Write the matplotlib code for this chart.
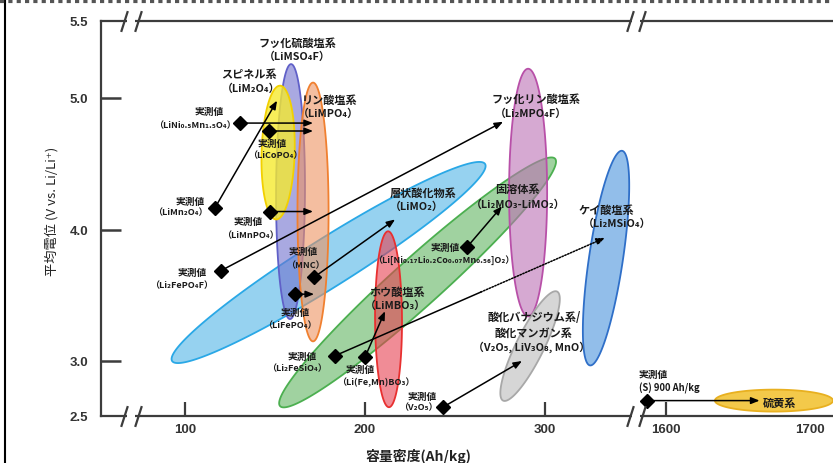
import numpy as np
import matplotlib.pyplot as plt
import matplotlib.lines as mlines
from matplotlib.patches import Polygon
from matplotlib.colors import to_rgba

plt.rcParams['font.family'] = ['Noto Sans CJK JP', 'DejaVu Sans']
plt.rcParams['font.weight'] = 'bold'

# regions of each material class: end points of the long axis (Ah/kg, V)
region_names = ['層状酸化物系', '固溶体系', 'フッ化硫酸塩系', 'スピネル系', 'リン酸塩系',
                'ホウ酸塩系', 'フッ化リン酸塩系', '酸化バナジウム系', 'ケイ酸塩系', '硫黄系']
region_x1 = [92.8, 152.8, 158.3, 150.6, 171.1, 213.3, 290.6, 276.7, 325.0, 1634]
region_v1 = [3.00, 2.59, 3.32, 4.08, 3.15, 2.58, 3.34, 2.64, 2.96, 2.64]
region_x2 = [266.7, 305.6, 158.9, 152.8, 171.1, 212.8, 290.6, 306.7, 342.8, 1716]
region_v2 = [4.50, 4.54, 5.22, 5.08, 5.10, 3.99, 5.19, 3.53, 4.60, 2.64]

# measured values and where the arrows point
meas_names = ['LiNi0.5Mn1.5O4', 'LiCoPO4', 'LiMn2O4', 'LiMnPO4', 'Li2FePO4F', 'MNC',
              'LiFePO4', 'Li2FeSiO4', 'Li(Fe,Mn)BO3', 'Li-rich', 'V2O5', 'S']
meas_x = [130.6, 146.7, 116.7, 147.2, 120.0, 171.7, 161.1, 183.3, 200.0, 256.7, 243.3, 1587]
meas_v = [4.81, 4.75, 4.17, 4.14, 3.69, 3.64, 3.51, 3.04, 3.03, 3.87, 2.58, 2.64]
target_x = [171.1, 171.1, 151.1, 171.1, 276.7, 216.7, 171.7, 333.3, 211.1, 276.1, 287.2, 1665]
target_v = [4.81, 4.75, 4.98, 4.14, 4.82, 4.08, 3.51, 3.94, 3.38, 4.18, 3.00, 2.64]
dotted = 'Li2FeSiO4'

xticks = [100, 200, 300, 1600, 1700]
yticks = [2.5, 3.0, 4.0, 5.0, 5.5]

# styles
fills = ['#50b4e6', '#61b461', '#7171cd', '#f5ea30', '#ee9361',
         '#e63f50', '#bc71b4', '#bcbcbc', '#4a94dc', '#f2c02a']
alphas = [0.6, 0.6, 0.6, 0.8, 0.6, 0.6, 0.6, 0.6, 0.6, 0.85]
edges = ['#2aa8e6', '#4caf50', '#6060c8', '#f2d000', '#f08030',
         '#e83030', '#b850a8', '#a8a8a8', '#2f6fc8', '#e8b020']
half_w = [17.3, 17.3, 10.4, 11.9, 11.2, 9.7, 13.7, 10.0, 12.2, 7.9]  # points

# broken x axis: piecewise linear
xk = np.array([0.0, 350.5, 1579.2, 2000.0])
xp = np.array([5.0, 635.9, 636.0, 1242.0])
yk = np.array([2.5, 3.0, 4.0, 5.0, 5.5])
yp = np.array([0.0, 55.0, 186.0, 318.0, 395.0])

fig = plt.figure(figsize=(8.33, 4.64), dpi=100)
ax = fig.add_axes([101 / 833, 47 / 464, 732 / 833, 395 / 464])
ax.set_xscale('function', functions=(lambda x: np.interp(x, xk, xp), lambda p: np.interp(p, xp, xk)))
ax.set_yscale('function', functions=(lambda v: np.interp(v, yk, yp), lambda p: np.interp(p, yp, yk)))
ax.set_xlim(53.3, 1716)
ax.set_ylim(2.5, 5.5)

ax.set_xticks(xticks)
ax.set_xticklabels([str(t) for t in xticks])
ax.set_yticks(yticks)
ax.set_yticklabels(['%.1f' % t for t in yticks])
ax.minorticks_off()
spc = '#3c3c3c'
ax.tick_params(axis='y', direction='in', length=14.4, width=1.8, color=spc, pad=9,
               labelsize=9.5, labelcolor='#333333')
ax.tick_params(axis='x', direction='in', length=10, width=1.6, color=spc, pad=5,
               labelsize=9.5, labelcolor='#333333')
for lbl in ax.get_xticklabels() + ax.get_yticklabels():
    lbl.set_family('Liberation Sans')
    lbl.set_fontweight('bold')
yt = ax.yaxis.get_major_ticks()
yt[0].tick1line.set_visible(False)
yt[-1].tick1line.set_visible(False)
ax.xaxis.get_major_ticks()[-1].tick1line.set_visible(False)

ax.spines['right'].set_visible(False)
for s in ['left', 'top', 'bottom']:
    ax.spines[s].set_color(spc)
    ax.spines[s].set_linewidth(1.6)

# break marks
tr = ax.get_xaxis_transform()
slash = [(-0.32, -1), (0.32, 1)]
for yy in (0, 1):
    for gap, (s1, s2) in [(69.9, (66.1, 73.6)), (350.5, (347.2, 1583.3))]:
        ax.plot([gap], [yy], transform=tr, marker='_', ms=6, mew=4, color='white',
                clip_on=False, zorder=5)
        ax.plot([s1, s2], [yy, yy], transform=tr, ls='none', marker=slash, ms=15,
                mew=1.6, mec=spc, mfc='none', clip_on=False, zorder=6)

# regions, built in display space from the long-axis end points
t = np.linspace(0, 2 * np.pi, 240)
inv = ax.transData.inverted()
for i in range(len(region_names)):
    p1 = ax.transData.transform((region_x1[i], region_v1[i]))
    p2 = ax.transData.transform((region_x2[i], region_v2[i]))
    c = (p1 + p2) / 2
    d = p2 - p1
    a = np.hypot(*d) / 2
    u = d / (2 * a)
    n = np.array([-u[1], u[0]])
    b = half_w[i] * fig.dpi / 72
    pts = c + np.outer(a * np.cos(t), u) + np.outer(b * np.sin(t), n)
    ax.add_patch(Polygon(inv.transform(pts), closed=True,
                         facecolor=to_rgba(fills[i], alphas[i]),
                         edgecolor=edges[i], lw=1.3, zorder=2 + i * 0.01))

# arrows and measured points
head = '-|>,head_length=0.5,head_width=0.2'
for i, name in enumerate(meas_names):
    if name == dotted:
        sx = meas_x[i] + 0.54 * (target_x[i] - meas_x[i])
        sv = meas_v[i] + 0.54 * (target_v[i] - meas_v[i])
        ax.plot([meas_x[i], sx], [meas_v[i], sv], color='k', lw=1.1, zorder=4)
        ax.annotate('', xy=(target_x[i], target_v[i]), xytext=(sx, sv),
                    arrowprops=dict(arrowstyle=head, lw=1.1, ls=(0, (1, 1)), color='k',
                                    shrinkA=0, shrinkB=0, mutation_scale=10), zorder=4)
    else:
        ax.annotate('', xy=(target_x[i], target_v[i]), xytext=(meas_x[i], meas_v[i]),
                    arrowprops=dict(arrowstyle=head, lw=1.1, color='k',
                                    shrinkA=0, shrinkB=0, mutation_scale=10), zorder=4)
ax.plot(meas_x, meas_v, ls='none', marker='D', ms=7, color='k', zorder=5)

tc = '#1a1a1a'
cat_labels = [
    ('フッ化硫酸塩系', 162.2, 5.364), ('（LiMSO₄F）', 162.2, 5.273),
    ('スピネル系', 135.6, 5.156), ('（LiM₂O₄）', 136.7, 5.065),
    ('リン酸塩系', 180.6, 4.99), ('（LiMPO₄）', 179.4, 4.886),
    ('層状酸化物系', 232.2, 4.288), ('（LiMO₂）', 228.9, 4.182),
    ('固溶体系', 284.4, 4.311), ('（Li₂MO₃-LiMO₂）', 285.0, 4.197),
    ('フッ化リン酸塩系', 295.0, 5.00), ('（Li₂MPO₄F）', 292.2, 4.886),
    ('ケイ酸塩系', 333.9, 4.159), ('（Li₂MSiO₄）', 340.0, 4.053),
    ('ホウ酸塩系', 217.8, 3.527), ('（LiMBO₃）', 216.7, 3.427),
    ('酸化バナジウム系/', 293.9, 3.336), ('酸化マンガン系', 293.3, 3.221),
    ('（V₂O₅, LiV₃O₈, MnO）', 292.8, 3.115),
]
for s, x, v in cat_labels:
    fs = 7.8 if s.startswith('（') else 8
    ax.text(x, v, s, ha='center', va='center', fontsize=fs, color=tc, zorder=7)
ax.text(1667.4, 2.627, '硫黄系', ha='left', va='center', fontsize=8, color=tc, zorder=7)

meas_labels = [
    (113.3, 4.90, '（LiNi₀.₅Mn₁.₅O₄）', 105.6, 4.80),
    (148.3, 4.659, '（LiCoPO₄）', 150.0, 4.568),
    (102.8, 4.22, '（LiMn₂O₄）', 97.2, 4.136),
    (135.0, 4.068, '（LiMnPO₄）', 136.1, 3.962),
    (103.9, 3.679, '（Li₂FePO₄F）', 98.3, 3.58),
    (165.6, 3.84, '（MNC）', 166.7, 3.733),
    (161.1, 3.374, '（LiFePO₄）', 158.3, 3.275),
    (165.0, 3.038, '（Li₂FeSiO₄）', 162.2, 2.936),
    (197.2, 2.927, '（Li(Fe,Mn)BO₃）', 206.1, 2.818),
    (244.4, 3.87, '（Li[Ni₀.₁₇Li₀.₂Co₀.₀₇Mn₀.₅₆]O₂）', 243.9, 3.779),
    (231.7, 2.682, '（V₂O₅）', 229.4, 2.582),
]
for x, v, s, fx, fv in meas_labels:
    ax.text(x, v, '実測値', ha='center', va='center', fontsize=7, color=tc, zorder=7)
    ax.text(fx, fv, s, ha='center', va='center', fontsize=6.5, color=tc, zorder=7)
ax.text(1581, 2.882, '実測値', ha='left', va='center', fontsize=7, color=tc, zorder=7)
ax.text(1581, 2.764, '(S) 900 Ah/kg', ha='left', va='center', fontsize=6.8, color=tc, zorder=7)

ax.set_ylabel('平均電位 (V vs. Li/Li⁺)', fontsize=9.5, color='#222222')
ax.yaxis.set_label_coords(-0.058, 0.52)
fig.text(418 / 833, 1 - 457 / 464, '容量密度(Ah/kg)', ha='center', va='center',
         fontsize=10, color='#222222')

# outer frame of the original figure
fig.add_artist(mlines.Line2D([5 / 833, 5 / 833], [0, 1], color='k', lw=1.5))
fig.add_artist(mlines.Line2D([0, 1], [1 - 2 / 464] * 2, color='#555555', lw=3,
                             ls=(0, (1, 1))))

fig.savefig('out.png', dpi=100)
